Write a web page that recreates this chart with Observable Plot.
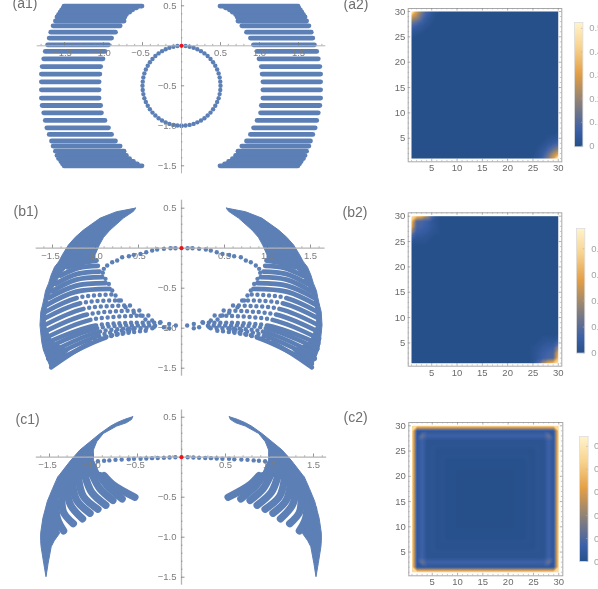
<!DOCTYPE html>
<html><head><meta charset="utf-8">
<script src="https://cdn.jsdelivr.net/npm/d3@7"></script>
<script src="https://cdn.jsdelivr.net/npm/@observablehq/plot@0.6"></script>
<style>html,body{margin:0;padding:0;background:#fff;overflow:hidden}#page{position:relative;width:598px;height:589px;overflow:hidden;background:#fff}</style>
</head><body><div id="page"></div>
<script>
const blue = "#5c7fb6", red = "#e8141c", axisGray = "#b4b4b4", tickGray = "#8a8a8a", labelGray = "#7d7d7d";
const majorTicks = [-1.5,-1,-0.5,0.5,1,1.5];
const minorTicks = [-1.8,-1.7,-1.6,-1.4,-1.3,-1.2,-1.1,-0.9,-0.8,-0.7,-0.6,-0.4,-0.3,-0.2,-0.1,0.1,0.2,0.3,0.4,0.6,0.7,0.8,0.9,1.1,1.2,1.3,1.4,1.6,1.7,1.8];
const yMajor = [0.5,-0.5,-1,-1.5];
const yMinor = [-1.6,-1.4,-1.3,-1.2,-1.1,-0.9,-0.8,-0.7,-0.6,-0.4,-0.3,-0.2,-0.1,0.1,0.2,0.3,0.4,0.6];
const heatMajor = [5,10,15,20,25,30];
const heatMinor = [1,2,3,4,6,7,8,9,11,12,13,14,16,17,18,19,21,22,23,24,26,27,28,29];
const barLabels = [0,0.1,0.2,0.3,0.4,0.5];
const stopFractions = [0,0.13,0.36,0.58,0.8,1];
const stopColors = ["#26508a","#3d61a8","#8d8279","#e39e45","#f8d38f","#fff4cb"];

const a1Rows = [[0.496,-1.50,-0.50],[0.475,-1.51,-0.57],[0.45,-1.53,-0.62],[0.42,-1.55,-0.66],[0.39,-1.57,-0.70],[0.36,-1.59,-0.72],[0.31,-1.61,-0.73],[0.25,-1.64,-0.78],[0.17,-1.67,-0.84],[0.096,-1.69,-0.89],[0.0125,-1.71,-0.93],[-0.07,-1.74,-0.975],[-0.1625,-1.76,-1.0],[-0.26,-1.78,-1.03],[-0.354,-1.79,-1.04],[-0.45,-1.79,-1.05],[-0.55,-1.79,-1.05],[-0.654,-1.79,-1.05],[-0.746,-1.78,-1.03],[-0.8375,-1.76,-1.02],[-0.933,-1.74,-0.975],[-1.025,-1.72,-0.93],[-1.108,-1.69,-0.89],[-1.19,-1.66,-0.84],[-1.254,-1.64,-0.78],[-1.317,-1.61,-0.73],[-1.37,-1.59,-0.70],[-1.41,-1.57,-0.66],[-1.446,-1.54,-0.61],[-1.475,-1.52,-0.56],[-1.50,-1.50,-0.50]];
const a1Ring = [[-0.052,-0.003],[-0.104,-0.011],[-0.155,-0.024],[-0.203,-0.043],[-0.25,-0.067],[-0.294,-0.095],[-0.335,-0.128],[-0.372,-0.165],[-0.405,-0.206],[-0.433,-0.25],[-0.457,-0.297],[-0.476,-0.345],[-0.489,-0.396],[-0.497,-0.448],[-0.50,-0.50],[-0.497,-0.552],[-0.489,-0.604],[-0.476,-0.655],[-0.457,-0.703],[-0.433,-0.75],[-0.405,-0.794],[-0.372,-0.835],[-0.335,-0.872],[-0.294,-0.905],[-0.25,-0.933],[-0.203,-0.957],[-0.155,-0.976],[-0.104,-0.989],[-0.052,-0.997],[0,-1.0]];

const b1Solid = [[0.495,-0.53,-0.53],[0.47,-0.65,-0.54],[0.45,-0.75,-0.56],[0.37,-0.94,-0.67],[0.22,-1.136,-0.826],[0.13,-1.23,-0.90],[0.033,-1.31,-0.95],[-0.09,-1.38,-1.0],[-0.15,-1.41,-1.0],[-0.17,-1.42,-1.05],[-0.2,-1.44,-1.25],[-0.24,-1.47,-1.33],[-0.342,-1.51,-1.407],[-0.446,-1.54,-1.465],[-0.5375,-1.575,-1.504],[-0.621,-1.59,-1.543],[-0.717,-1.61,-1.56],[-0.80,-1.63,-1.57],[-0.967,-1.64,-1.58],[-1.175,-1.62,-1.50],[-1.279,-1.60,-1.30],[-1.383,-1.562,-1.388],[-1.5,-1.516,-1.516]];
const b1Arcs = [
 [[-1.329,-0.2375],[-1.155,-0.183],[-0.988,-0.154]],[[-1.407,-0.342],[-1.194,-0.246],[-0.973,-0.221]],
 [[-1.465,-0.446],[-1.213,-0.321],[-0.953,-0.292]],[[-1.504,-0.5375],[-1.233,-0.396],[-0.922,-0.3625]],
 [[-1.543,-0.621],[-1.233,-0.471],[-0.884,-0.4375]],[[-1.581,-0.717],[-1.233,-0.546],[-0.837,-0.508]],
 [[-1.59,-0.80],[-1.213,-0.621],[-0.767,-0.579]],[[-1.60,-0.883],[-1.174,-0.688],[-0.682,-0.654]],
 [[-1.60,-0.967],[-1.136,-0.758],[-0.574,-0.717]],[[-1.60,-1.05],[-1.097,-0.829],[-0.457,-0.779]],
 [[-1.60,-1.133],[-1.058,-0.896],[-0.36,-0.842]],[[-1.59,-1.196],[-1.0,-0.967],[-0.244,-0.933]],
 [[-1.58,-1.26],[-0.98,-1.0],[-0.30,-0.97]],[[-1.55,-1.32],[-0.942,-1.042],[-0.283,-1.0]],
 [[-1.55,-1.38],[-0.95,-1.09],[-0.5,-1.0]],[[-1.516,-1.446],[-0.864,-1.1125],[-0.40,-1.03]],
 [[-1.516,-1.49],[-1.019,-1.16],[-0.554,-1.03]]];
const b1Chain = [[-0.07,0],[-0.128,0],[-0.205,-0.008],[-0.283,-0.017],[-0.341,-0.029],[-0.41,-0.05],[-0.477,-0.071],[-0.554,-0.083],[-0.612,-0.10],[-0.69,-0.1125],[-0.748,-0.154],[-0.806,-0.175],[-0.864,-0.217],[-0.903,-0.258],[-0.915,-0.308],[-0.884,-0.383],[-0.845,-0.446],[-0.806,-0.529],[-0.767,-0.592],[-0.729,-0.654],[-0.651,-0.7375],[-0.554,-0.808],[-0.477,-0.842],[-0.419,-0.892],[-0.341,-0.904],[-0.244,-0.925],[-0.205,-0.9875],[-0.322,-0.9875],[-0.066,-0.967],[-0.143,-1.0],[-0.143,-0.946]];

const c1Solid = [[0.5,-0.55,-0.55],[0.467,-0.64,-0.56],[0.425,-0.731,-0.62],[0.383,-0.80,-0.731],[0.29,-0.92,-0.883],[0.1875,-1.034,-0.958],[0.083,-1.15,-0.996],[-0.042,-1.25,-0.996],[-0.083,-1.28,-0.977],[-0.23,-1.383,-0.92],[-0.25,-1.40,-1.13],[-0.30,-1.42,-1.20],[-0.40,-1.46,-1.30],[-0.48,-1.49,-1.36],[-0.56,-1.52,-1.43],[-0.667,-1.545,-1.45],[-0.77,-1.57,-1.42],[-0.958,-1.595,-1.38],[-1.05,-1.595,-1.44],[-1.125,-1.59,-1.475],[-1.333,-1.56,-1.51],[-1.5,-1.534,-1.534]];
const c1Ribs = [[[-1.5,-0.65],[-1.47,-0.8],[-1.44,-0.95]],[[-1.43,-0.56],[-1.41,-0.77],[-1.34,-0.92]],[[-1.36,-0.48],[-1.34,-0.69],[-1.23,-0.83]],[[-1.30,-0.40],[-1.26,-0.60],[-1.125,-0.77]],[[-1.24,-0.32],[-1.19,-0.54],[-1.04,-0.70]],[[-1.17,-0.27],[-1.115,-0.49],[-0.95,-0.65]],[[-1.095,-0.24],[-1.02,-0.44],[-0.86,-0.60]],[[-1.01,-0.23],[-0.93,-0.39],[-0.78,-0.54]],[[-0.93,-0.23],[-0.85,-0.35],[-0.675,-0.52]],[[-0.88,-0.23],[-0.77,-0.35],[-0.53,-0.50]]];
const c1Chain = [[-0.07,0],[-0.135,-0.004],[-0.2,-0.008],[-0.27,-0.01],[-0.335,-0.012],[-0.40,-0.017],[-0.465,-0.02],[-0.54,-0.02],[-0.60,-0.025],[-0.68,-0.03],[-0.75,-0.033],[-0.82,-0.04],[-0.88,-0.045],[-0.95,-0.05]];

const a2Corner = [[0.52,0.30,0.17,0.08,0.03,0.01],[0.30,0.22,0.12,0.05,0.02,0],[0.17,0.12,0.07,0.03,0.01,0],[0.08,0.05,0.03,0.01,0,0],[0.03,0.02,0.01,0,0,0],[0.01,0,0,0,0,0]];
const b2Corner = [[0.42,0.34,0.30,0.20,0.08,0.02,0,0],[0.34,0.09,0.08,0.06,0.03,0.01,0,0],[0.30,0.08,0.07,0.05,0.03,0.01,0,0],[0.20,0.06,0.05,0.04,0.02,0.01,0,0],[0.08,0.03,0.03,0.02,0.01,0,0,0],[0.02,0.01,0.01,0.01,0,0,0,0],[0,0,0,0,0,0,0,0]];
const c2Ring = [0.46,0.03,0.07,0.015,0.02,0.008,0.012,0.004,0.004,0.002,0.002,0,0,0,0];
const c2Spot = 0.14;

const page = document.getElementById("page");
const place = (svg, left, top) => { svg.style.position = "absolute"; svg.style.left = left + "px"; svg.style.top = top + "px"; svg.style.maxWidth = "none"; svg.style.overflow = "visible"; svg.style.filter = "blur(0.45px)"; page.appendChild(svg); };
const flip = rows => rows.map(r => [-r[0], r[1]]);
const flipSolid = rows => rows.map(r => [r[0], -r[1], -r[2]]);
const flipLines = ls => ls.map(l => l.map(p => [-p[0], p[1]]));
const pts = (ls, from, to) => ls.flatMap((l, i) => l.slice(from, to).map(p => ({x: p[0], y: p[1], id: i})));
const fmt = d => (d < 0 ? "\u2212" : "") + Math.abs(d).toFixed(1);
const fontFamily = "'Liberation Sans', Arial, sans-serif";

function leftPanel({top, y0, sx, sy, H, label, labelY, labelX, xExt, yExt, axisW, marks}) {
  const W = 340, x0 = 181, yy = y0 - top;
  const minor = minorTicks.filter(d => d > xExt[0] && d < xExt[1]);
  const yM = yMinor.filter(d => d > yExt[0] && d < yExt[1]);
  const svg = Plot.plot({
    width: W, height: H, margin: 0, style: {background: "transparent", fontFamily},
    x: {domain: [(0 - x0) / sx, (W - x0) / sx], range: [0, W], axis: null},
    y: {domain: [yy / sy, (yy - H) / sy], range: [0, H], axis: null},
    marks: [
      ...marks,
      Plot.ruleY([0], {x1: xExt[0], x2: xExt[1], stroke: axisGray, strokeWidth: axisW}),
      Plot.ruleX([0], {y1: yExt[0], y2: yExt[1], stroke: axisGray, strokeWidth: axisW}),
      Plot.ruleX(minor, {x: d => d, y1: 0, y2: 0.018, stroke: tickGray, strokeWidth: 0.7}),
      Plot.ruleX(majorTicks, {x: d => d, y1: 0, y2: 0.04, stroke: "#777", strokeWidth: 0.8}),
      Plot.ruleY(yM, {y: d => d, x1: 0, x2: 0.018, stroke: tickGray, strokeWidth: 0.7}),
      Plot.ruleY(yMajor, {y: d => d, x1: 0, x2: 0.04, stroke: "#777", strokeWidth: 0.8}),
      Plot.text(majorTicks.filter(d => d < 0), {x: d => d, y: 0, text: fmt, dy: 7.5, dx: -2, fontSize: 9.5, fill: labelGray}),
      Plot.text(majorTicks.filter(d => d > 0), {x: d => d, y: 0, text: fmt, dy: 7.5, fontSize: 9.5, fill: labelGray}),
      Plot.text(yMajor, {x: 0, y: d => d, text: fmt, dx: -5, textAnchor: "end", fontSize: 9.5, fill: labelGray}),
      Plot.dot([[0, 0]], {x: d => d[0], y: d => d[1], r: 2.1, fill: red}),
      Plot.text([label], {frameAnchor: "top-left", text: d => d, dx: labelX, dy: labelY, lineAnchor: "bottom", textAnchor: "start", fontSize: 14, fill: "#6f6f6f"})
    ]
  });
  place(svg, 0, top);
}

const rowMarks = rows => Plot.ruleY(rows, {y: d => d[0], x1: d => d[1], x2: d => d[2], stroke: blue, strokeWidth: 4.8, strokeLinecap: "round"});
const dotMarks = rows => Plot.dot(rows, {x: d => d[0], y: d => d[1], r: 2.2, fill: blue});
const solidMark = rows => Plot.areaX(rows, {y: d => d[0], x1: d => d[1], x2: d => d[2], fill: blue, stroke: blue, strokeWidth: 1});
const lineMark = (ls, opts) => Plot.line(pts(ls, 0, 3), {x: "x", y: "y", z: "id", curve: "catmull-rom", stroke: blue, strokeLinecap: "round", ...opts});

leftPanel({top: 0, y0: 45.3, sx: 78, sy: 80, H: 182, label: "(a1)", labelX: 12, labelY: 7, xExt: [-1.85, 1.85], yExt: [-1.6, 0.6], axisW: 1,
  marks: [rowMarks(a1Rows), rowMarks(flipSolid(a1Rows)), dotMarks(a1Ring), dotMarks(flip(a1Ring))]});

const b1Denser = b1Arcs.slice(0, 6), b1Loose = b1Arcs.slice(6);
// solid run first, then round dots spaced along the rest of the curve
const dash = run => [run, ...d3.range(40).flatMap(() => [5.8, 0])].join(" ");
const b1Dotted = ls => ls.map(l => lineMark([l], {strokeWidth: 4.5, strokeDasharray: dash(Math.abs(l[1][0] - l[0][0]) * 86 * 1.08)}));
leftPanel({top: 195, y0: 247.7, sx: 86, sy: 80, H: 190, label: "(b1)", labelX: 13, labelY: 20, xExt: [-1.69, 1.67], yExt: [-1.6, 0.6], axisW: 1.3,
  marks: [solidMark(b1Solid), solidMark(flipSolid(b1Solid)),
    lineMark(b1Denser, {strokeWidth: 4.8}), lineMark(flipLines(b1Denser), {strokeWidth: 4.8}),
    ...b1Dotted(b1Loose), ...b1Dotted(flipLines(b1Loose)),
    dotMarks(b1Chain), dotMarks(flip(b1Chain))]});

leftPanel({top: 400, y0: 456.7, sx: 88, sy: 80, H: 189, label: "(c1)", labelX: 15, labelY: 23, xExt: [-1.65, 1.65], yExt: [-1.6, 0.59], axisW: 1.3,
  marks: [solidMark(c1Solid), solidMark(flipSolid(c1Solid)),
    lineMark(c1Ribs, {strokeWidth: 7.4}), lineMark(flipLines(c1Ribs), {strokeWidth: 7.4}),
    dotMarks(c1Chain), dotMarks(flip(c1Chain))]});

const grid = value => d3.range(1, 31).flatMap(x => d3.range(1, 31).map(y => ({x, y, v: value(x, y)})));
const cornerValue = table => (x, y) => {
  const read = (i, j) => (table[j] && table[j][i] !== undefined) ? table[j][i] : 0;
  return Math.max(read(x - 1, 30 - y), read(30 - x, y - 1));
};
const ringValue = (x, y) => {
  const dx = Math.min(x - 1, 30 - x), dy = Math.min(y - 1, 30 - y);
  return (dx === 2 && dy === 2) ? c2Spot : c2Ring[Math.min(dx, dy)];
};
const colorFor = max => ({type: "linear", domain: stopFractions.map(f => f * max), range: stopColors, interpolate: "rgb", clamp: true});

function heatPanel({top, fL, fR, fT, fB, x1px, y30px, sx, sy, label, labelX, labelY, value, max}) {
  const left = 340, W = 250, H = fB - top + 22;
  const L = fL - left, R = fR - left, T = fT - top, B = fB - top;
  const xDom = [1 + (fL - x1px) / sx, 1 + (fR - x1px) / sx];
  const yDom = [30 - (fB - y30px) / sy, 30 - (fT - y30px) / sy];
  const rim = (vals, len, c) => [
    Plot.ruleX(vals, {x: d => d, y1: yDom[0], y2: yDom[0] + len, stroke: c, strokeWidth: 0.6}),
    Plot.ruleX(vals, {x: d => d, y1: yDom[1], y2: yDom[1] - len, stroke: c, strokeWidth: 0.6}),
    Plot.ruleY(vals, {y: d => d, x1: xDom[0], x2: xDom[0] + len, stroke: c, strokeWidth: 0.6}),
    Plot.ruleY(vals, {y: d => d, x1: xDom[1], x2: xDom[1] - len, stroke: c, strokeWidth: 0.6})
  ];
  const svg = Plot.plot({
    width: W, height: H, marginLeft: L, marginRight: W - R, marginTop: T, marginBottom: H - B,
    style: {background: "transparent", fontFamily},
    x: {domain: xDom, axis: null}, y: {domain: yDom, axis: null},
    color: colorFor(max),
    marks: [
      Plot.raster(grid(value), {x: "x", y: "y", fill: "v", x1: 1, x2: 30, y1: 1, y2: 30, pixelSize: 1, interpolate: "barycentric"}),
      Plot.frame({stroke: "#a8a8a8", strokeWidth: 1}),
      ...rim(heatMinor, 0.28, "#a0a0a0"), ...rim(heatMajor, 0.5, "#808080"),
      Plot.text(heatMajor, {x: d => d, y: yDom[0], text: d => d, dy: 6.5, fontSize: 9.5, fill: "#6a6a6a"}),
      Plot.text(heatMajor, {x: xDom[0], y: d => d, text: d => d, dx: -3, textAnchor: "end", fontSize: 9.5, fill: "#6a6a6a"}),
      Plot.text([label], {frameAnchor: "top-left", text: d => d, dx: labelX - L, dy: labelY - T, lineAnchor: "bottom", textAnchor: "start", fontSize: 14, fill: "#6f6f6f"})
    ]
  });
  place(svg, left, top);
}

function barPanel({left, top, w, h, max, yBottom, yTop, labelLeft, labels}) {
  const W = 40;
  const svg = Plot.plot({
    width: W, height: h, marginTop: 0, marginBottom: 0, marginLeft: 0, marginRight: W - w,
    style: {background: "transparent", fontFamily},
    x: {domain: [0, 1], axis: null}, y: {domain: [yBottom, yTop], axis: null},
    color: colorFor(max),
    marks: [
      Plot.raster({fill: (x, y) => y, x1: 0, x2: 1, y1: yBottom, y2: yTop, pixelSize: 1}),
      Plot.frame({stroke: "#dcdcdc", strokeWidth: 0.8}),
      Plot.ruleY(labels, {y: d => d, x1: 0.82, x2: 1, stroke: "#b0b0b0", strokeWidth: 0.6}),
      Plot.text(labels, {x: 1, y: d => d, text: d => d === 0 ? "0" : d.toFixed(1), dx: labelLeft - w, textAnchor: "start", fontSize: 9.5, fill: "#a4a4a4"})
    ]
  });
  place(svg, left, top);
}

heatPanel({top: 0, fL: 407.7, fR: 561.3, fT: 8, fB: 161.3, x1px: 411, y30px: 11, sx: 5.06, sy: 5.07, label: "(a2)", labelX: 3, labelY: 9, value: cornerValue(a2Corner), max: 0.525});
barPanel({left: 574.3, top: 21.7, w: 8.4, h: 124.3, max: 0.525, yBottom: -0.004, yTop: 0.525, labelLeft: 14.7, labels: barLabels});

heatPanel({top: 195, fL: 407.7, fR: 561.3, fT: 212.3, fB: 365.7, x1px: 411, y30px: 215.7, sx: 5.06, sy: 5.07, label: "(b2)", labelX: 2, labelY: 22, value: cornerValue(b2Corner), max: 0.478});
barPanel({left: 576, top: 227.7, w: 8.3, h: 124.6, max: 0.478, yBottom: 0, yTop: 0.478, labelLeft: 14.7, labels: barLabels.slice(0, 5)});

heatPanel({top: 400, fL: 408.3, fR: 562.3, fT: 422, fB: 575.3, x1px: 411.5, y30px: 425.3, sx: 5.06, sy: 5.05, label: "(c2)", labelX: 3, labelY: 22, value: ringValue, max: 0.543});
barPanel({left: 578.7, top: 435.7, w: 8.6, h: 125, max: 0.543, yBottom: 0, yTop: 0.543, labelLeft: 14.6, labels: barLabels});
</script>
</body></html>
